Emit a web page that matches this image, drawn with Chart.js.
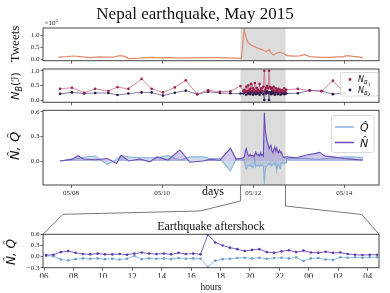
<!DOCTYPE html>
<html>
<head>
<meta charset="utf-8">
<script src="https://cdn.jsdelivr.net/npm/chart.js@4.4.1/dist/chart.umd.min.js"></script>
<style>
  body { margin: 0; background: #fff; }
  #wrap { position: relative; width: 390px; height: 293px; overflow: hidden; }
  #wrap canvas { position: absolute; left: 0; top: 0; }
</style>
</head>
<body>
<div id="wrap">
  <canvas id="tweets" width="390" height="293"></canvas>
  <canvas id="nb" width="390" height="293"></canvas>
  <canvas id="est" width="390" height="293"></canvas>
  <canvas id="shock" width="390" height="293"></canvas>
</div>
<script>
const SERIF = "'Liberation Serif', 'DejaVu Serif', serif";
const MATH = "'DejaVu Sans', sans-serif";

// x of the top three panels: days after 05/08 00:00
const dayTicks = [0, 2, 4, 6];
const dayLabels = ['05/08', '05/10', '05/12', '05/14'];
const shadeFrom = 3.72;
const shadeTo = 4.71;
const zoomStart = 3.78;   // where 06:00 of the aftershock panel sits

// tweets, x 10^5
const tweetDays = [-0.28, -0.10, 0.05, 0.20, 0.42, 0.60, 0.78, 0.95, 1.07, 1.18, 1.26, 1.40, 1.51, 1.65, 1.80, 1.95, 2.17, 2.39, 2.68, 2.98, 3.16, 3.40, 3.60, 3.74, 3.80, 3.85, 3.89, 3.96, 4.07, 4.18, 4.25, 4.29, 4.35, 4.39, 4.44, 4.51, 4.58, 4.66, 4.73, 4.88, 5.02, 5.13, 5.24, 5.46, 5.68, 5.85, 5.97, 6.05, 6.19, 6.34, 6.41];
const tweetCounts = [0.09, 0.11, 0.135, 0.11, 0.07, 0.10, 0.09, 0.10, 0.15, 0.12, 0.03, 0.04, 0.05, 0.07, 0.08, 0.06, 0.07, 0.05, 0.06, 0.07, 0.07, 0.06, 0.05, 0.04, 1.23, 0.86, 0.68, 0.59, 0.48, 0.41, 0.35, 0.31, 0.41, 0.27, 0.18, 0.25, 0.29, 0.25, 0.15, 0.13, 0.14, 0.19, 0.11, 0.08, 0.08, 0.10, 0.10, 0.15, 0.12, 0.10, 0.05];

// N_B(I) outside the shaded window
const nbDays = [-0.24, 0.02, 0.29, 0.53, 0.82, 1.02, 1.26, 1.55, 1.77, 2.02, 2.28, 2.52, 2.77, 3.01, 3.27, 3.50, 3.72, 4.98, 5.24, 5.50, 5.75, 6.00];
const nb1 = [0.38, 0.42, 0.25, 0.38, 0.31, 0.44, 0.38, 0.72, 0.38, 0.26, 0.43, 0.67, 0.20, 0.33, 0.28, 0.30, 0.48, 0.38, 0.32, 0.30, 0.66, 0.24];
const nb2 = [0.21, 0.26, 0.22, 0.24, 0.24, 0.17, 0.22, 0.26, 0.26, 0.15, 0.25, 0.32, 0.20, 0.28, 0.24, 0.23, 0.22, 0.23, 0.33, 0.31, 0.20, 0.24];

// N-hat, Q-hat outside the shaded window
const estDays = [-0.24, 0.02, 0.15, 0.27, 0.53, 0.80, 1.00, 1.10, 1.27, 1.51, 1.73, 1.89, 2.13, 2.39, 2.61, 2.90, 3.05, 3.27, 3.50, 3.63, 4.73, 4.95, 5.15, 5.35, 5.46, 5.57, 5.75, 6.00, 6.20, 6.41];
const estN = [0.0, 0.02, 0.065, 0.025, 0.015, 0.03, -0.03, 0.07, 0.0, 0.025, -0.01, 0.05, 0.012, 0.135, -0.015, 0.0, 0.02, 0.01, 0.155, 0.02, 0.05, 0.04, 0.07, 0.09, 0.105, 0.06, 0.05, 0.03, 0.02, 0.012];
const estQ = [0.0, 0.025, 0.03, 0.045, 0.06, -0.04, 0.02, 0.065, 0.05, 0.04, 0.04, 0.04, 0.065, 0.012, 0.05, 0.05, 0.03, 0.03, -0.12, 0.03, 0.03, 0.03, 0.035, 0.02, 0.02, 0.03, 0.035, 0.05, 0.05, 0.04];

// aftershock window, hours after 06:00
const hourTicks = [0, 2, 4, 6, 8, 10, 12, 14, 16, 18, 20, 22];
const hourLabels = ['06', '08', '10', '12', '14', '16', '18', '20', '22', '00', '02', '04'];
const shockHours = [0.14, 0.64, 1.14, 1.64, 2.14, 2.64, 3.14, 3.64, 4.14, 4.64, 5.14, 5.64, 6.14, 6.64, 7.14, 7.64, 8.14, 8.64, 9.14, 9.64, 10.14, 10.64, 11.14, 11.64, 12.14, 12.64, 13.14, 13.64, 14.14, 14.64, 15.14, 15.64, 16.14, 16.64, 17.14, 17.64, 18.14, 18.64, 19.14, 19.64, 20.14, 20.64, 21.14, 21.64, 22.14, 22.64];
const shockN = [0.04, 0.05, 0.12, 0.15, 0.10, 0.07, 0.06, 0.08, 0.06, 0.06, 0.07, 0.05, 0.08, 0.11, 0.08, 0.07, 0.08, 0.06, 0.10, 0.07, 0.08, 0.06, 0.59, 0.38, 0.30, 0.24, 0.20, 0.15, 0.18, 0.20, 0.12, 0.10, 0.14, 0.17, 0.12, 0.16, 0.11, 0.10, 0.13, 0.10, 0.11, 0.07, 0.05, 0.04, 0.05, 0.05];
const shockQ = [0.02, 0.01, -0.08, -0.10, -0.07, -0.05, -0.06, -0.05, -0.07, -0.06, -0.08, -0.06, 0.02, -0.07, -0.05, -0.06, -0.05, -0.07, -0.04, -0.06, -0.05, -0.06, -0.28, -0.11, -0.07, -0.06, -0.04, -0.03, -0.05, -0.03, -0.06, -0.04, -0.03, -0.05, -0.02, -0.12, -0.05, -0.04, -0.08, -0.09, -0.02, -0.03, -0.02, -0.03, -0.02, -0.02];
const shockNb1 = [0.30, 0.35, 0.28, 0.45, 0.30, 0.50, 0.32, 0.38, 0.55, 0.30, 0.40, 0.35, 0.58, 0.30, 0.42, 0.36, 0.30, 0.55, 0.33, 0.40, 0.30, 0.45, 1.00, 0.35, 0.42, 0.48, 0.40, 1.00, 0.45, 0.38, 0.42, 0.35, 0.45, 0.30, 0.40, 0.35, 0.30, 0.38, 0.28, 0.35, 0.30, 0.33, 0.28, 0.40, 0.30, 0.35];
const shockNb2 = [0.22, 0.25, 0.30, 0.18, 0.28, 0.22, 0.32, 0.20, 0.26, 0.30, 0.18, 0.25, 0.28, 0.20, 0.30, 0.22, 0.26, 0.18, 0.28, 0.24, 0.30, 0.20, 0.00, 0.28, 0.22, 0.30, 0.25, 0.00, 0.26, 0.20, 0.30, 0.22, 0.28, 0.18, 0.26, 0.30, 0.20, 0.25, 0.28, 0.18, 0.26, 0.22, 0.30, 0.20, 0.25, 0.22];

const C_TWEET = '#de8a6c';
const C_NB1 = '#9c1f4e', C_NB1_LINE = 'rgba(196,100,135,0.85)';
const C_NB2 = '#2b1747', C_NB2_LINE = 'rgba(95,80,130,0.85)';
const C_Q = '#8cb2da', C_Q_FILL = 'rgba(143,180,218,0.45)';
const C_N = '#6a4cba', C_N_FILL = 'rgba(140,120,205,0.40)';

function pts(xs, ys) {
  return xs.map((x, i) => ({ x: x, y: ys[i] }));
}
function withShock(xs, ys, shockYs) {
  const inner = pts(shockHours.map(h => zoomStart + h / 24), shockYs);
  return pts(xs, ys).concat(inner).sort((a, b) => a.x - b.x);
}

function xScale(min, max, ticks, labels, show, size) {
  return {
    type: 'linear', min: min, max: max,
    afterBuildTicks: s => { s.ticks = ticks.map(v => ({ value: v })); },
    afterFit: s => { s.height = 10; },
    grid: { drawOnChartArea: false, tickLength: 3, color: '#444', lineWidth: 0.8 },
    border: { display: false },
    ticks: { display: show, autoSkip: false, maxRotation: 0, padding: 1,
      callback: (v, i) => labels[i], color: '#222', font: { family: SERIF, size: size } }
  };
}
function yScale(min, max, ticks, labels) {
  return {
    type: 'linear', min: min, max: max,
    afterBuildTicks: s => { s.ticks = ticks.map(v => ({ value: v })); },
    afterFit: s => { s.width = 43; },
    grid: { drawOnChartArea: false, tickLength: 2.5, color: '#444', lineWidth: 0.8 },
    border: { display: false },
    ticks: { padding: 1, autoSkip: false, callback: (v, i) => labels[i], color: '#222', font: { family: SERIF, size: 7 } }
  };
}
function opts(top, bottom, scales) {
  return {
    responsive: false, animation: false, devicePixelRatio: 1, events: [],
    layout: { padding: { left: 0, right: 11, top: top, bottom: 293 - bottom - 10 } },
    elements: { line: { tension: 0 } },
    scales: scales,
    plugins: { legend: { display: false }, tooltip: { enabled: false } }
  };
}

// text made of pieces: [text, font, dy]
function rich(ctx, x, y, parts, align, rot) {
  ctx.save();
  ctx.translate(x, y);
  if (rot) ctx.rotate(rot);
  ctx.fillStyle = '#111';
  ctx.textBaseline = 'alphabetic';
  ctx.textAlign = 'left';
  let w = 0;
  parts.forEach(p => { ctx.font = p[1]; w += ctx.measureText(p[0]).width; });
  let cx = align === 'left' ? 0 : -w / 2;
  parts.forEach(p => {
    ctx.font = p[1];
    ctx.fillText(p[0], cx, p[2] || 0);
    cx += ctx.measureText(p[0]).width;
  });
  ctx.restore();
}

const deco = {};
let estChart = null;

const decoPlugin = {
  id: 'deco',
  beforeDatasetsDraw(chart) {
    const d = deco[chart.canvas.id];
    if (!d || !d.shade) return;
    const a = chart.chartArea, x = chart.scales.x;
    const x0 = x.getPixelForValue(shadeFrom), x1 = x.getPixelForValue(shadeTo);
    const ctx = chart.ctx;
    ctx.save();
    ctx.fillStyle = '#dcdcdc';
    ctx.fillRect(x0, a.top, x1 - x0, a.bottom - a.top);
    ctx.restore();
  },
  afterDraw(chart) {
    const d = deco[chart.canvas.id];
    const ctx = chart.ctx, a = chart.chartArea;
    ctx.save();
    ctx.strokeStyle = '#444';
    ctx.lineWidth = 1;
    ctx.strokeRect(a.left, a.top, a.right - a.left, a.bottom - a.top);
    ctx.restore();
    if (!d) return;
    if (d.draw) d.draw(chart, ctx, a);
    (d.texts || []).forEach(t => rich(ctx, t.x, t.y, t.parts, t.align, t.rot));
  }
};
Chart.register(decoPlugin);

const dayMin = -0.615, dayMax = 6.762;

// panel 1: tweets
deco.tweets = {
  shade: true,
  texts: [
    { x: 195, y: 18.5, parts: [['Nepal earthquake, May 2015', '17px ' + SERIF]] },
    { x: 44.5, y: 25, align: 'left', parts: [['\u00d710', '7px ' + SERIF], ['5', '5px ' + SERIF, -3.5]] },
    { x: 18.5, y: 44, rot: -Math.PI / 2, parts: [['Tweets', '13px ' + SERIF]] }
  ]
};
new Chart('tweets', {
  type: 'line',
  data: { datasets: [{ data: pts(tweetDays, tweetCounts), borderColor: C_TWEET, borderWidth: 1.2, pointRadius: 0 }] },
  options: opts(28, 60.7, {
    x: xScale(dayMin, dayMax, dayTicks, dayLabels, false, 7),
    y: yScale(-0.058, 1.29, [0, 0.5, 1], ['0.0', '0.5', '1.0'])
  })
});

// panel 2: N_B(I)
deco.nb = {
  shade: true,
  texts: [
    { x: 18.5, y: 86, rot: -Math.PI / 2, parts: [['N', 'italic 11px ' + MATH], ['B', 'italic 8px ' + MATH, 3], ['(\u2110)', '11px ' + MATH]] },
    { x: 358, y: 82, align: 'left', parts: [['N', 'italic 8px ' + MATH], ['B', 'italic 5.5px ' + MATH, 2], ['1', '4.5px ' + MATH, 3.5]] },
    { x: 358, y: 92.5, align: 'left', parts: [['N', 'italic 8px ' + MATH], ['B', 'italic 5.5px ' + MATH, 2], ['2', '4.5px ' + MATH, 3.5]] }
  ],
  draw(chart, ctx) {
    ctx.save();
    ctx.beginPath();
    ctx.roundRect(340.5, 72.5, 37.5, 23.5, 2);
    ctx.fillStyle = 'rgba(255,255,255,0.85)';
    ctx.fill();
    ctx.strokeStyle = '#d0d0d0';
    ctx.lineWidth = 0.8;
    ctx.stroke();
    [[79.5, C_NB1], [90, C_NB2]].forEach(m => {
      ctx.beginPath();
      ctx.arc(350, m[0], 1.4, 0, Math.PI * 2);
      ctx.fillStyle = m[1];
      ctx.fill();
    });
    ctx.restore();
  }
};
new Chart('nb', {
  type: 'line',
  data: { datasets: [
    { data: withShock(nbDays, nb1, shockNb1), borderColor: C_NB1_LINE, borderWidth: 0.9,
      pointRadius: 1.3, pointBackgroundColor: C_NB1, pointBorderWidth: 0 },
    { data: withShock(nbDays, nb2, shockNb2), borderColor: C_NB2_LINE, borderWidth: 0.9,
      pointRadius: 1.3, pointBackgroundColor: C_NB2, pointBorderWidth: 0 }
  ] },
  options: opts(69, 102.3, {
    x: xScale(dayMin, dayMax, dayTicks, dayLabels, false, 7),
    y: yScale(-0.078, 1.058, [0, 0.5, 1], ['0.0', '0.5', '1.0'])
  })
});

// panel 3: N-hat and Q-hat over the days
deco.est = {
  shade: true,
  texts: [
    { x: 18.5, y: 146, rot: -Math.PI / 2, parts: [['N\u0302, Q\u0302', 'italic 13px ' + MATH]] },
    { x: 213, y: 195, parts: [['days', '12px ' + SERIF]] },
    { x: 360, y: 131, align: 'left', parts: [['Q\u0302', 'italic 11px ' + MATH]] },
    { x: 360, y: 146.5, align: 'left', parts: [['N\u0302', 'italic 11px ' + MATH]] }
  ],
  draw(chart, ctx) {
    ctx.save();
    ctx.beginPath();
    ctx.roundRect(331.5, 115.5, 42.5, 37, 2.5);
    ctx.fillStyle = 'rgba(255,255,255,0.85)';
    ctx.fill();
    ctx.strokeStyle = '#d0d0d0';
    ctx.lineWidth = 0.8;
    ctx.stroke();
    [[127, C_Q], [142.5, C_N]].forEach(m => {
      ctx.beginPath();
      ctx.moveTo(335, m[0]);
      ctx.lineTo(354, m[0]);
      ctx.strokeStyle = m[1];
      ctx.lineWidth = 1.5;
      ctx.stroke();
    });
    ctx.restore();
  }
};
estChart = new Chart('est', {
  type: 'line',
  data: { datasets: [
    { data: withShock(estDays, estN, shockN), borderColor: C_N, borderWidth: 1.1, pointRadius: 0,
      fill: 'origin', backgroundColor: C_N_FILL },
    { data: withShock(estDays, estQ, shockQ), borderColor: C_Q, borderWidth: 1.1, pointRadius: 0,
      fill: 'origin', backgroundColor: C_Q_FILL }
  ] },
  options: opts(110.3, 185, {
    x: xScale(dayMin, dayMax, dayTicks, dayLabels, true, 7),
    y: yScale(-0.292, 0.617, [0, 0.3, 0.6], ['0.0', '0.3', '0.6'])
  })
});

// panel 4: the aftershock day
deco.shock = {
  texts: [
    { x: 211, y: 230, parts: [['Earthquake aftershock', '12px ' + SERIF]] },
    { x: 211, y: 289.5, parts: [['hours', '9.5px ' + SERIF]] },
    { x: 14.5, y: 252, rot: -Math.PI / 2, parts: [['N\u0302, Q\u0302', 'italic 12px ' + MATH]] }
  ],
  draw(chart, ctx, a) {
    const x3 = estChart.scales.x;
    const xa = x3.getPixelForValue(shadeFrom), xb = x3.getPixelForValue(shadeTo);
    const y3 = estChart.chartArea.bottom;
    ctx.save();
    ctx.strokeStyle = '#555';
    ctx.lineWidth = 0.8;
    ctx.beginPath();
    ctx.moveTo(xa, y3); ctx.lineTo(xa, 201); ctx.lineTo(200, 211); ctx.lineTo(63, 214.3); ctx.lineTo(a.left, a.top);
    ctx.moveTo(xb, y3); ctx.lineTo(xb, 206); ctx.lineTo(361.7, 214.5); ctx.lineTo(a.right, a.top);
    ctx.stroke();
    ctx.restore();
  }
};
new Chart('shock', {
  type: 'line',
  data: { datasets: [
    { data: pts(shockHours, shockN), borderColor: C_N, borderWidth: 0.9,
      pointRadius: 1.3, pointBackgroundColor: '#5a3db3', pointBorderWidth: 0 },
    { data: pts(shockHours, shockQ), borderColor: C_Q, borderWidth: 0.9,
      pointRadius: 1.3, pointBackgroundColor: '#6f9bd0', pointBorderWidth: 0 }
  ] },
  options: opts(234.3, 267.7, {
    x: xScale(-0.07, 22.77, hourTicks, hourLabels, true, 9),
    y: yScale(-0.3, 0.6, [-0.3, 0, 0.3, 0.6], ['\u22120.3', '0.0', '0.3', '0.6'])
  })
});
</script>
</body>
</html>
